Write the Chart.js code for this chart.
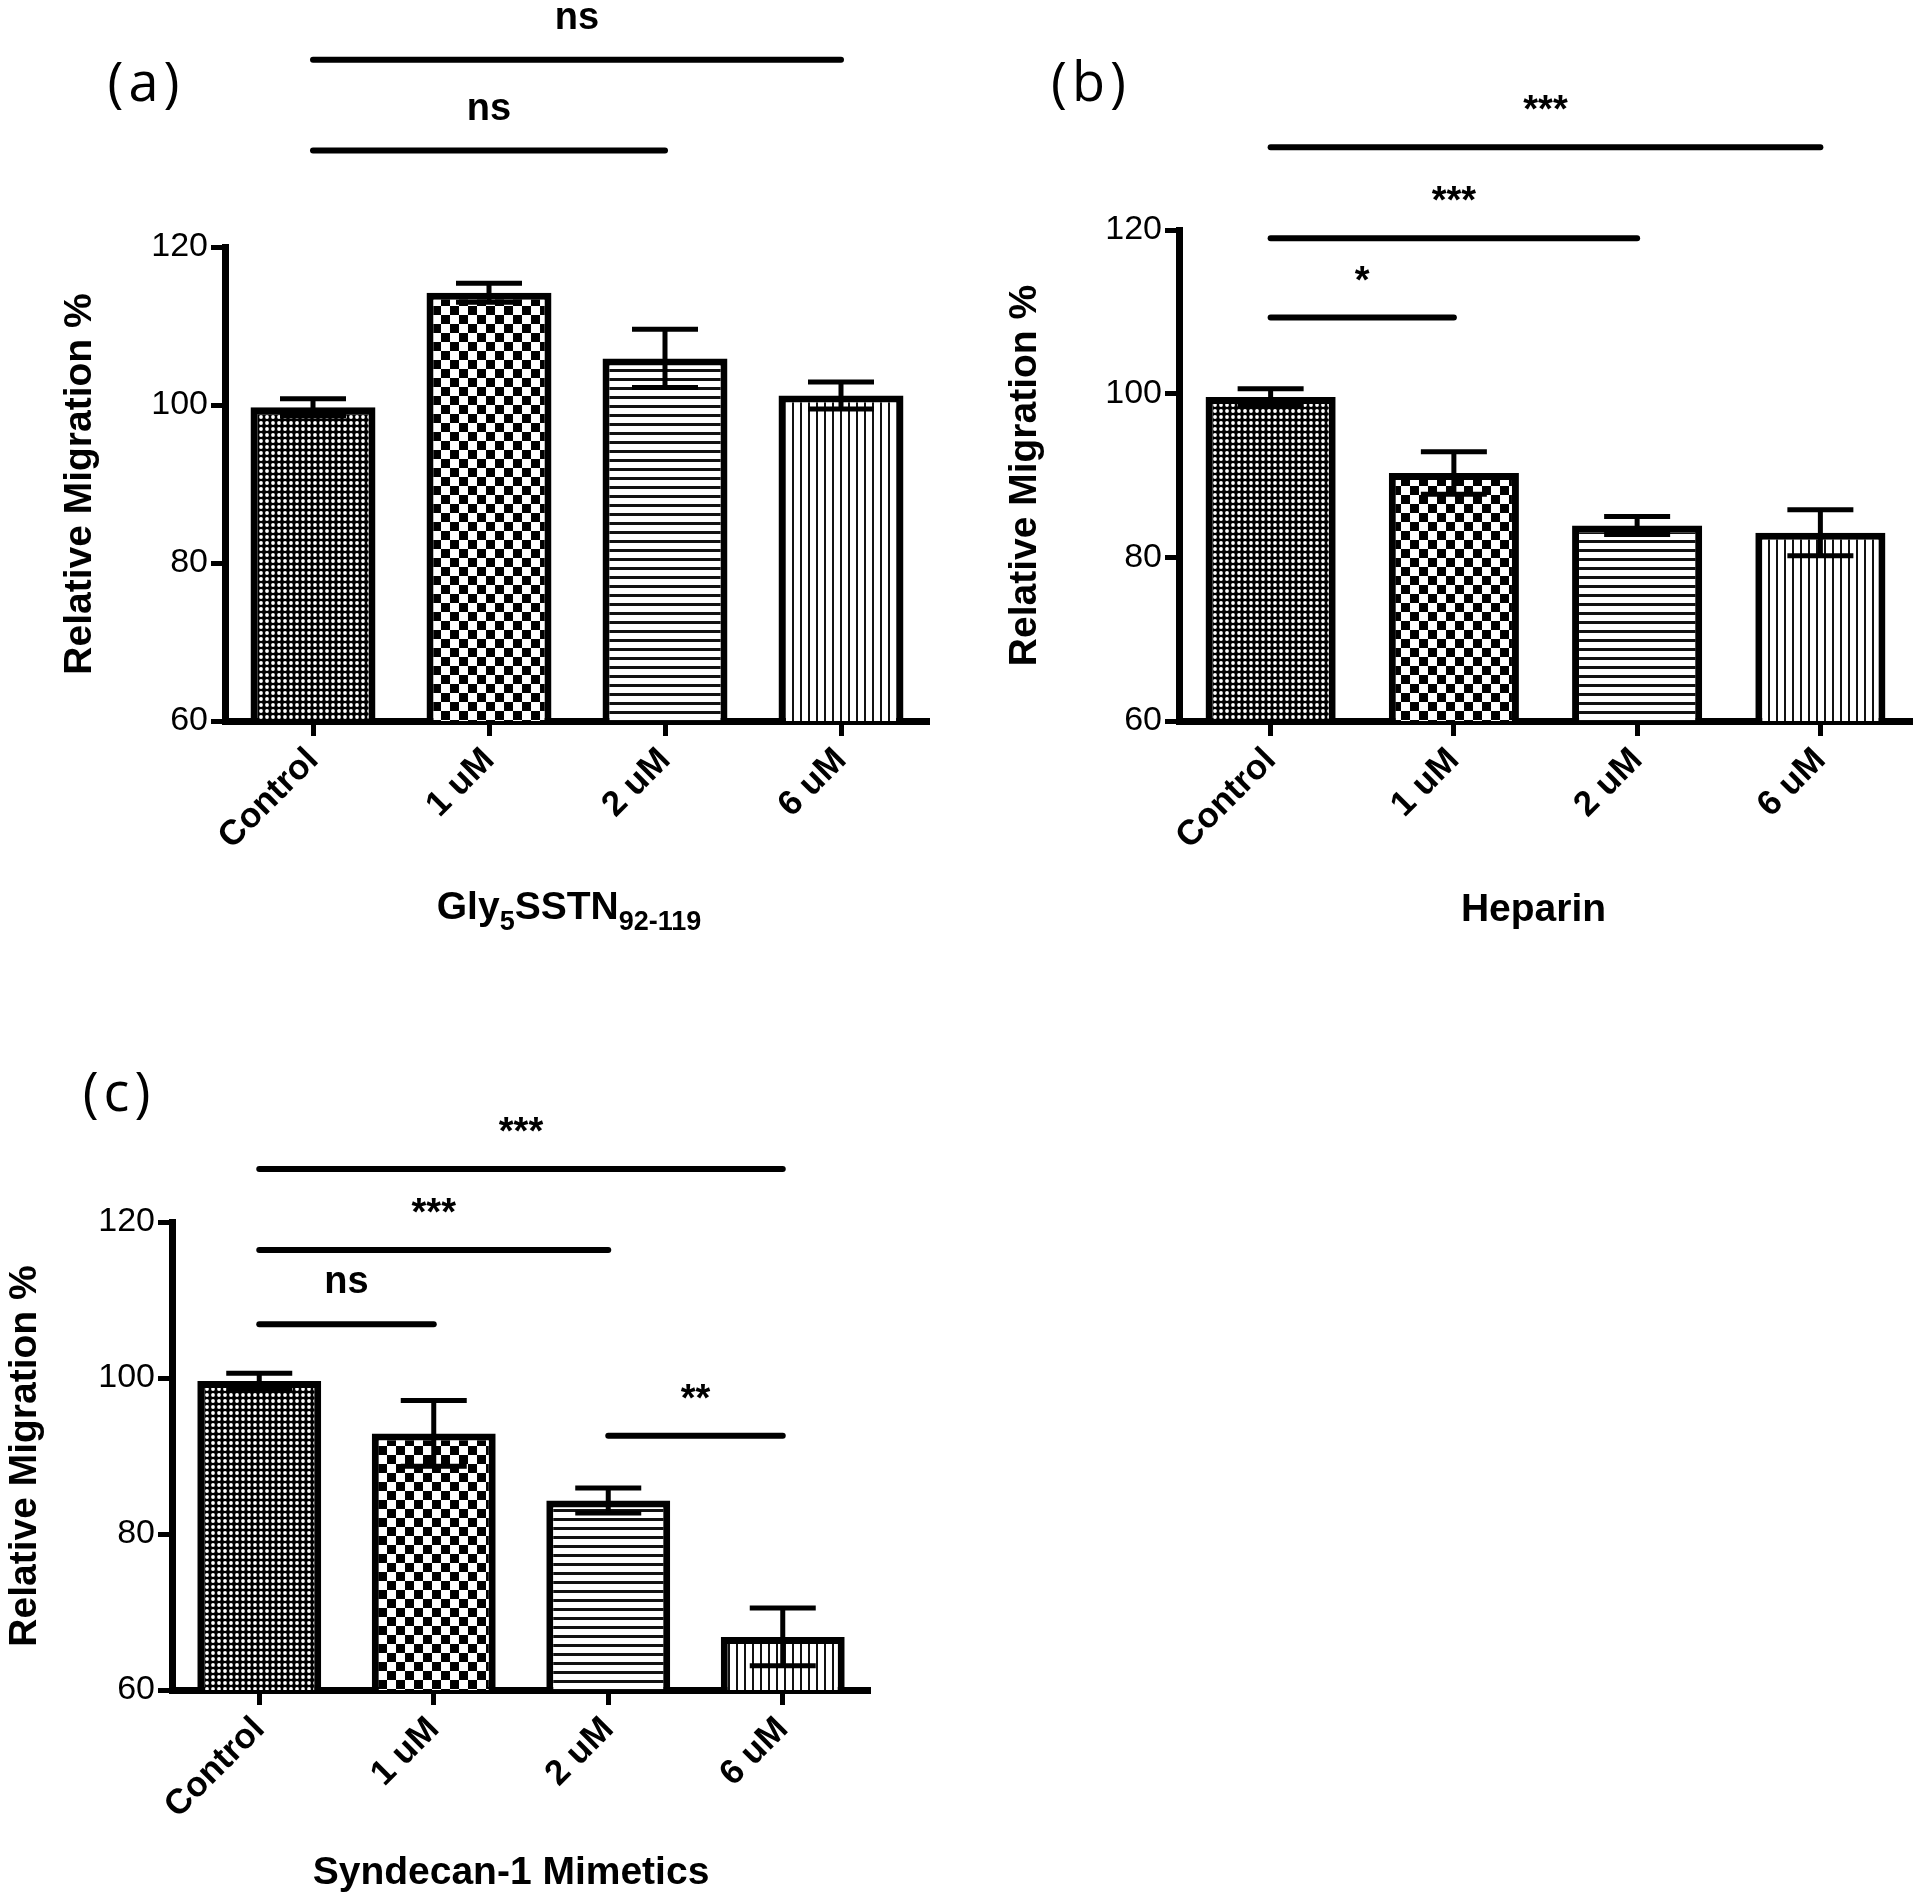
<!DOCTYPE html>
<html>
<head>
<meta charset="utf-8">
<script src="https://cdn.jsdelivr.net/npm/chart.js@4.4.1/dist/chart.umd.min.js"></script>
<style>
  html, body { margin: 0; padding: 0; background: #fff; }
  #page { position: relative; width: 1920px; height: 1899px; background: #fff; overflow: hidden; }
  .panel { position: absolute; }
</style>
</head>
<body>
<div id="page">
  <canvas class="panel" id="chartA" width="960" height="960" style="left:0;top:0"></canvas>
  <canvas class="panel" id="chartB" width="960" height="960" style="left:960px;top:0"></canvas>
  <canvas class="panel" id="chartC" width="960" height="939" style="left:0;top:960px"></canvas>
</div>
<script>
const FONT = "'Liberation Sans', Arial, Helvetica, sans-serif";

const categories = ['Control', '1 uM', '2 uM', '6 uM'];
const yTickValues = [60, 80, 100, 120];

// (a) Gly5SSTN92-119
const glyMean = [99.7, 114.2, 105.9, 101.2];
const glyErr = [1.1, 1.2, 3.7, 1.7];
const glySigFrom = [0, 0];
const glySigTo = [3, 2];
const glySigLevel = [143.7, 132.2];
const glySigText = ['ns', 'ns'];

// (b) Heparin
const hepMean = [99.6, 90.3, 83.9, 83.0];
const hepErr = [1.0, 2.6, 1.1, 2.8];
const hepSigFrom = [0, 0, 0];
const hepSigTo = [3, 2, 1];
const hepSigLevel = [130.1, 119.0, 109.3];
const hepSigText = ['***', '***', '*'];

// (c) Syndecan-1 mimetics
const synMean = [99.6, 92.9, 84.3, 66.8];
const synErr = [1.0, 4.2, 1.6, 3.7];
const synSigFrom = [0, 0, 0, 2];
const synSigTo = [3, 2, 1, 3];
const synSigLevel = [126.8, 116.4, 106.9, 92.6];
const synSigText = ['***', '***', 'ns', '**'];


// bar fill patterns (one per category)
function makePattern(kind) {
    const c = document.createElement('canvas');
    const g = c.getContext('2d');
    if (kind === 'fine') {
        c.width = 6; c.height = 6;
        g.fillStyle = '#000'; g.fillRect(0, 0, 6, 6);
        g.fillStyle = '#fff';
        g.beginPath(); g.arc(3, 3, 1.9, 0, Math.PI * 2); g.fill();
    } else if (kind === 'checker') {
        c.width = 18; c.height = 18;
        g.fillStyle = '#fff'; g.fillRect(0, 0, 18, 18);
        g.fillStyle = '#000'; g.fillRect(0, 0, 9, 9); g.fillRect(9, 9, 9, 9);
    } else if (kind === 'hlines') {
        c.width = 9; c.height = 9;
        g.fillStyle = '#fff'; g.fillRect(0, 0, 9, 9);
        g.fillStyle = '#111'; g.fillRect(0, 0, 9, 3);
    } else {
        c.width = 8; c.height = 8;
        g.fillStyle = '#fff'; g.fillRect(0, 0, 8, 8);
        g.fillStyle = '#111'; g.fillRect(0, 0, 2, 8);
    }
    return g.createPattern(c, 'repeat');
}

const barFills = ['fine', 'checker', 'hlines', 'vlines'].map(makePattern);


// error bars, significance brackets, x title, panel letter
function decorPlugin(p) {
    return {
        id: 'decor',
        afterDatasetsDraw(chart) {
            const ctx = chart.ctx;
            const y = chart.scales.y;
            const meta = chart.getDatasetMeta(0);
            ctx.save();
            ctx.strokeStyle = '#000';
            ctx.lineWidth = 5;
            meta.data.forEach((bar, i) => {
                const top = y.getPixelForValue(p.mean[i] + p.err[i]);
                const bot = y.getPixelForValue(p.mean[i] - p.err[i]);
                ctx.beginPath();
                ctx.moveTo(bar.x, top); ctx.lineTo(bar.x, bot);
                ctx.moveTo(bar.x - 33, top); ctx.lineTo(bar.x + 33, top);
                ctx.moveTo(bar.x - 33, bot); ctx.lineTo(bar.x + 33, bot);
                ctx.stroke();
            });
            ctx.restore();
        },
        afterDraw(chart) {
            const ctx = chart.ctx;
            const x = chart.scales.x;
            const y = chart.scales.y;
            const area = chart.chartArea;
            ctx.save();
            ctx.strokeStyle = '#000';
            ctx.fillStyle = '#000';
            ctx.lineWidth = 6;
            ctx.lineCap = 'round';
            ctx.textAlign = 'center';
            ctx.textBaseline = 'alphabetic';
            ctx.font = 'bold 38px ' + FONT;
            p.sigFrom.forEach((from, k) => {
                const x1 = x.getPixelForTick(from);
                const x2 = x.getPixelForTick(p.sigTo[k]);
                const ly = y.getPixelForValue(p.sigLevel[k]);
                ctx.beginPath();
                ctx.moveTo(x1, ly); ctx.lineTo(x2, ly);
                ctx.stroke();
                const off = p.sigText[k].includes('*') ? 25 : 31;
                ctx.fillText(p.sigText[k], (x1 + x2) / 2, ly - off);
            });

            // x axis title, with subscripts
            const mainFont = 'bold 39px ' + FONT;
            const subFont = 'bold 27px ' + FONT;
            let total = 0;
            p.xTitle.forEach(part => {
                ctx.font = part[1] ? subFont : mainFont;
                total += ctx.measureText(part[0]).width;
            });
            let tx = (area.left + area.right) / 2 + p.xTitleDX - total / 2;
            const ty = area.bottom + p.xTitleDY;
            ctx.textAlign = 'left';
            p.xTitle.forEach(part => {
                ctx.font = part[1] ? subFont : mainFont;
                ctx.fillText(part[0], tx, part[1] ? ty + 11 : ty);
                tx += ctx.measureText(part[0]).width;
            });

            // panel letter
            ctx.font = "54px 'Open Sans', 'Noto Sans', sans-serif";
            ctx.letterSpacing = '5px';
            ctx.textAlign = 'center';
            ctx.textBaseline = 'middle';
            ctx.fillText(p.letter, p.letterX, p.letterY);
            ctx.restore();
        }
    };
}


function buildPanel(id, p) {
    return new Chart(document.getElementById(id), {
        type: 'bar',
        data: {
            labels: categories,
            datasets: [{
                data: p.mean,
                backgroundColor: barFills,
                borderColor: '#000',
                borderWidth: 7,
                barPercentage: 0.71,
                categoryPercentage: 1
            }]
        },
        options: {
            responsive: false,
            animation: false,
            devicePixelRatio: 1,
            layout: { padding: { left: p.padL, top: p.padT, right: p.padR, bottom: 0 } },
            plugins: { legend: { display: false }, tooltip: { enabled: false } },
            scales: {
                x: {
                    type: 'category',
                    offset: true,
                    z: 1,
                    grid: { display: true, offset: false, drawOnChartArea: false, drawTicks: true,
                            tickLength: 15, tickWidth: 5, tickColor: '#000' },
                    border: { display: true, color: '#000', width: 7 },
                    ticks: { color: '#000', autoSkip: false, minRotation: 45, maxRotation: 45, padding: 4,
                             font: { family: FONT, size: 35, weight: 'bold' } },
                    afterFit: s => { s.height = p.xH; }
                },
                y: {
                    min: 60,
                    max: 120,
                    z: 1,
                    afterBuildTicks: s => { s.ticks = yTickValues.map(v => ({ value: v })); },
                    grid: { display: true, drawOnChartArea: false, drawTicks: true,
                            tickLength: 14, tickWidth: 5, tickColor: '#000' },
                    border: { display: true, color: '#000', width: 7 },
                    ticks: { color: '#000', padding: 3, font: { family: FONT, size: 34 } },
                    title: { display: true, text: 'Relative Migration %', color: '#000', padding: 0,
                             font: { family: FONT, size: 39, weight: 'bold' } },
                    afterFit: s => { s.width = p.yW; }
                }
            }
        },
        plugins: [decorPlugin(p)]
    });
}


buildPanel('chartA', {
    mean: glyMean, err: glyErr,
    sigFrom: glySigFrom, sigTo: glySigTo, sigLevel: glySigLevel, sigText: glySigText,
    padL: 57, padT: 247, padR: 31, yW: 168,
    xH: 239,
    xTitle: [['Gly', false], ['5', true], ['SSTN', false], ['92-119', true]],
    xTitleDX: -8, xTitleDY: 198,
    letter: '(a)', letterX: 146, letterY: 86
});

buildPanel('chartB', {
    mean: hepMean, err: hepErr,
    sigFrom: hepSigFrom, sigTo: hepSigTo, sigLevel: hepSigLevel, sigText: hepSigText,
    padL: 41.6, padT: 230, padR: 8, yW: 177.4, xH: 239,
    xTitle: [['Heparin', false]],
    xTitleDX: -12, xTitleDY: 200,
    letter: '(b)', letterX: 131, letterY: 86
});

buildPanel('chartC', {
    mean: synMean, err: synErr,
    sigFrom: synSigFrom, sigTo: synSigTo, sigLevel: synSigLevel, sigText: synSigText,
    padL: 1.6, padT: 262, padR: 90, yW: 170.4, xH: 209,
    xTitle: [['Syndecan-1 Mimetics', false]],
    xTitleDX: -10, xTitleDY: 194,
    letter: '(c)', letterX: 119, letterY: 1096 - 960
});
</script>
</body>
</html>
